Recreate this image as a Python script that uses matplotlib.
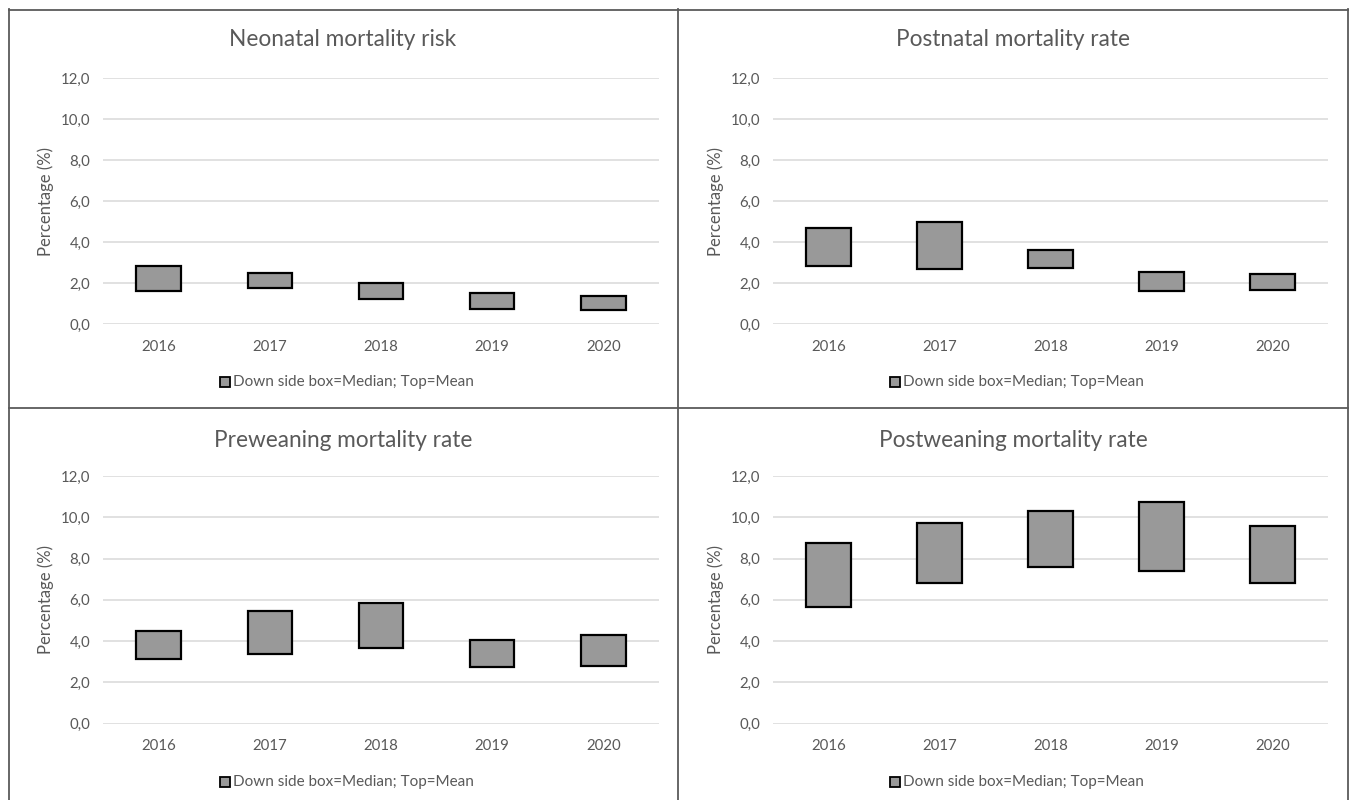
import matplotlib
matplotlib.use("Agg")
import matplotlib.pyplot as plt
from matplotlib.lines import Line2D
from matplotlib.patches import Rectangle
import numpy as np

plt.rcParams['font.family'] = ['Lato', 'DejaVu Sans']

years = ["2016", "2017", "2018", "2019", "2020"]

neonatal_median = [1.62, 1.75, 1.23, 0.75, 0.67]
neonatal_mean = [2.84, 2.51, 2.00, 1.50, 1.38]

postnatal_median = [2.84, 2.69, 2.74, 1.62, 1.68]
postnatal_mean = [4.66, 4.98, 3.62, 2.55, 2.43]

preweaning_median = [3.13, 3.39, 3.65, 2.74, 2.78]
preweaning_mean = [4.48, 5.46, 5.82, 4.04, 4.30]

postweaning_median = [5.67, 6.83, 7.58, 7.40, 6.79]
postweaning_mean = [8.75, 9.72, 10.32, 10.76, 9.57]

titles = ["Neonatal mortality risk", "Postnatal mortality rate",
          "Preweaning mortality rate", "Postweaning mortality rate"]
medians = [neonatal_median, postnatal_median, preweaning_median, postweaning_median]
means = [neonatal_mean, postnatal_mean, preweaning_mean, postweaning_mean]

yticks = [0, 2, 4, 6, 8, 10, 12]
legend_text = "Down side box=Median; Top=Mean"

W, H = 1349, 800
fig = plt.figure(figsize=(W / 100, H / 100), dpi=100)

txt_color = "#595959"
grid_color = "#d9d9d9"
box_color = "#999999"
border_color = "#5a5a5a"

# pixel layout: (axes left, axes right, y of 12.0, y of 0.0, panel centre x, title y, legend y)
layout = [
    (103, 659, 78, 324, 343, 40, 382),
    (773, 1328, 78, 324, 1013, 40, 382),
    (103, 659, 476, 723.5, 343, 440, 782),
    (773, 1328, 476, 723.5, 1013, 440, 782),
]

for i, (l, r, ytop, ybot, cx, ty, ly) in enumerate(layout):
    ax = fig.add_axes([l / W, 1 - ybot / H, (r - l) / W, (ybot - ytop) / H])
    x = np.arange(len(years))
    lo = np.array(medians[i])
    hi = np.array(means[i])
    ax.bar(x, hi - lo, bottom=lo, width=0.4, color=box_color,
           edgecolor="black", linewidth=1.6, zorder=3)
    ax.set_xlim(-0.5, len(years) - 0.5)
    ax.set_ylim(0, 12)
    ax.set_yticks(yticks)
    ax.set_yticklabels([f"{v:.1f}".replace(".", ",") for v in yticks])
    ax.set_xticks(x)
    ax.set_xticklabels(years)
    ax.grid(axis="y", color=grid_color, linewidth=1.1, zorder=0)
    ax.set_axisbelow(True)
    for s in ax.spines.values():
        s.set_visible(False)
    ax.tick_params(length=0, labelsize=10.8, colors=txt_color)
    ax.tick_params(axis="y", pad=9)
    ax.tick_params(axis="x", pad=11.5)
    ax.set_ylabel("Percentage (%)", fontsize=12, color=txt_color, labelpad=5)
    fig.text(cx / W, 1 - ty / H, titles[i], ha="center", va="center",
             fontsize=16.3, color=txt_color)
    # legend entry
    fig.patches.append(Rectangle(((cx - 123) / W, 1 - (ly + 5) / H), 10 / W, 10 / H,
                                 transform=fig.transFigure, facecolor=box_color,
                                 edgecolor="black", linewidth=1.3))
    fig.text((cx - 110) / W, 1 - ly / H, legend_text, ha="left", va="center",
             fontsize=11, color=txt_color)

# panel frames
for seg in [((9, 9), (9, 800)), ((9, 1348), (9.5, 9.5)), ((1348, 1348), (9, 800)),
            ((678, 678), (9, 800)), ((9, 1348), (408, 408))]:
    xs, ys = seg
    fig.add_artist(Line2D([v / W for v in xs], [1 - v / H for v in ys],
                          color=border_color, linewidth=1.3))

fig.savefig("out.png", dpi=100, facecolor="white")
